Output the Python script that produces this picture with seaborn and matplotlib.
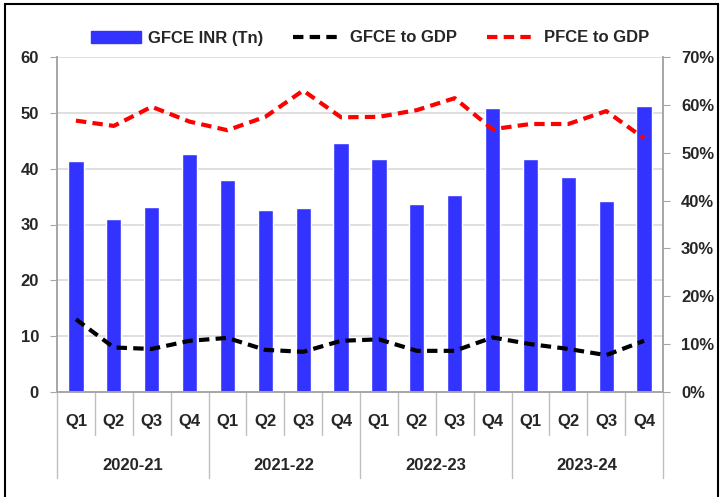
import matplotlib
matplotlib.use("Agg")
import matplotlib.pyplot as plt
import matplotlib.transforms as mtransforms
from matplotlib.lines import Line2D
from matplotlib.patches import Patch, Rectangle
import numpy as np
import pandas as pd
import seaborn as sns

# data
years = ["2020-21", "2021-22", "2022-23", "2023-24"]
quarters = ["Q1", "Q2", "Q3", "Q4"]
gfce_inr = [41.4, 31.0, 33.2, 42.6,
            38.0, 32.6, 33.0, 44.6,
            41.8, 33.6, 35.3, 50.8,
            41.7, 38.5, 34.2, 51.3]
gfce_to_gdp = [15.2, 9.3, 9.0, 10.7,
               11.3, 8.8, 8.4, 10.7,
               11.0, 8.6, 8.6, 11.4,
               10.0, 9.0, 7.7, 10.7]
pfce_to_gdp = [56.7, 55.6, 59.6, 56.5,
               54.7, 57.5, 63.0, 57.4,
               57.5, 58.9, 61.4, 54.9,
               56.0, 56.0, 58.7, 53.0]

sns.set_style("white")
plt.rcParams["font.family"] = ["Liberation Sans Narrow", "Liberation Sans", "DejaVu Sans"]
plt.rcParams["font.weight"] = "bold"

labels = [f"{y} {q}" for y in years for q in quarters]
df = pd.DataFrame({"period": labels, "gfce": gfce_inr,
                   "gfce_gdp": gfce_to_gdp, "pfce_gdp": pfce_to_gdp})
df["pos"] = np.arange(len(df))

fig = plt.figure(figsize=(7.21, 4.97), dpi=100)
ax = fig.add_axes([57 / 721, 1 - 392 / 497, (663 - 57) / 721, (392 - 57) / 497])

blue = "#3333FF"
sns.barplot(data=df, x="period", y="gfce", color=blue, width=0.4,
            saturation=1, ax=ax, zorder=2)
ax.set_xlim(-0.5, len(df) - 0.5)
ax.set_ylim(0, 60)
ax.set_yticks(range(0, 61, 10))
ax.yaxis.grid(True, color="#D9D9D9", linewidth=1.2, zorder=0)
ax.set_axisbelow(True)
ax.set_xlabel("")
ax.set_ylabel("")

ax2 = ax.twinx()
sns.lineplot(x=df["pos"], y=df["gfce_gdp"], ax=ax2, color="black",
             linewidth=3, zorder=3).lines[-1].set_dashes((2.5, 1.5))
sns.lineplot(x=df["pos"], y=df["pfce_gdp"], ax=ax2, color="#FF0000",
             linewidth=3, zorder=3).lines[-1].set_dashes((2.5, 1.5))
ax2.set_ylim(0, 70)
ax2.set_yticks(range(0, 71, 10))
ax2.set_yticklabels([f"{v}%" for v in range(0, 71, 10)])
ax2.set_xlim(-0.5, len(df) - 0.5)
ax2.set_xlabel("")
ax2.set_ylabel("")

spine_col = "#A6A6A6"
for a in (ax, ax2):
    a.spines["top"].set_visible(False)
    for s in ("left", "right", "bottom"):
        a.spines[s].set_color(spine_col)
        a.spines[s].set_linewidth(1.2)
ax.tick_params(axis="y", length=5, color=spine_col, labelsize=12, pad=8)
ax2.tick_params(axis="y", length=5, color=spine_col, labelsize=12, pad=8)

# two-level category axis
ax.set_xticks(df["pos"])
ax.set_xticklabels(quarters * len(years), fontsize=12, fontweight="bold")
ax.tick_params(axis="x", length=0, pad=16)
trans = mtransforms.blended_transform_factory(ax.transData, ax.transAxes)
for i in range(len(df) + 1):
    x = i - 0.5
    low = -0.257 if i % 4 == 0 else -0.128
    ax.add_line(Line2D([x, x], [0, low], transform=trans, color="#BFBFBF",
                       linewidth=1, clip_on=False))
for j, y in enumerate(years):
    ax.text(j * 4 + 1.5, -0.218, y, transform=trans, ha="center", va="center",
            fontsize=12, fontweight="bold")

handles = [Patch(color=blue, label="GFCE INR (Tn)"),
           Line2D([], [], color="black", linewidth=3, dashes=(2.5, 1.5), label="GFCE to GDP"),
           Line2D([], [], color="#FF0000", linewidth=3, dashes=(2.5, 1.5), label="PFCE to GDP")]
fig.legend(handles=handles, loc="center", bbox_to_anchor=(370 / 721, 1 - 38 / 497),
           ncol=3, frameon=False, fontsize=12, handlelength=3.0, columnspacing=1.8,
           handletextpad=0.4)

# outer frame
fig.patches.append(Rectangle((5 / 721, -0.01), 713 / 721, 1 - 4 / 497 + 0.01,
                             transform=fig.transFigure, fill=False,
                             edgecolor="black", linewidth=1.5))

fig.savefig("out.png", dpi=100)
